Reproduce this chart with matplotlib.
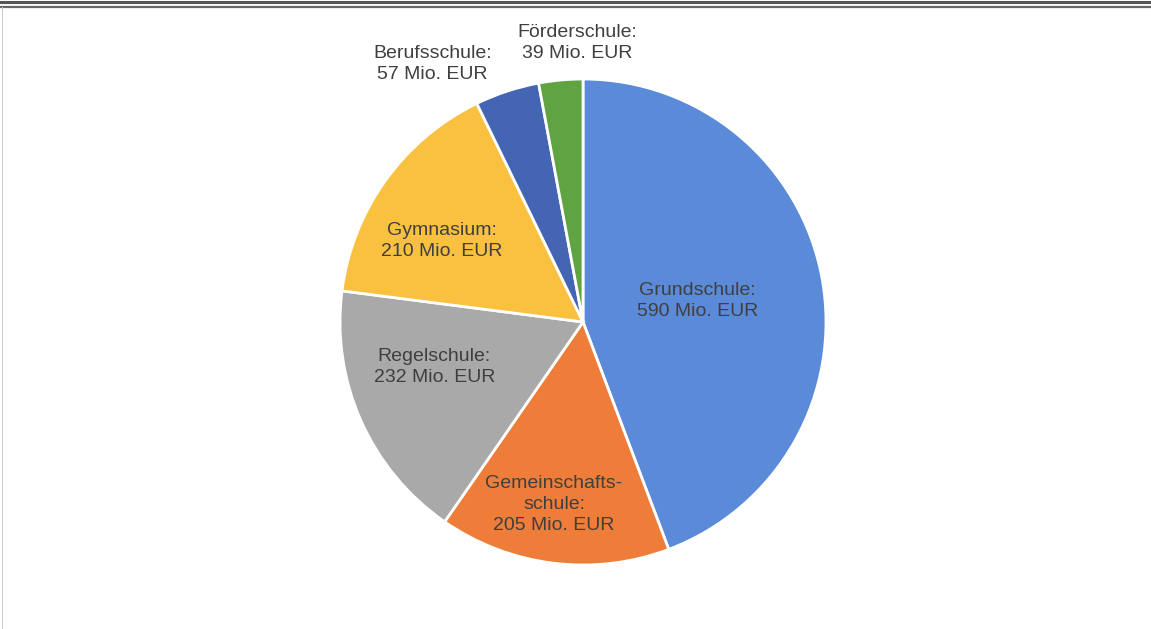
import numpy as np
import matplotlib.pyplot as plt
from matplotlib.lines import Line2D

plt.rcParams['font.family'] = ['Liberation Sans', 'DejaVu Sans']

# Ausgaben je Schulart in Mio. EUR
schularten = ['Grundschule', 'Gemeinschafts-\nschule', 'Regelschule',
              'Gymnasium', 'Berufsschule', 'Förderschule']
ausgaben = [590, 205, 232, 210, 57, 39]
farben = ['#5B8BD8', '#EE7D3A', '#A9A9A9', '#FAC03F', '#4464B4', '#5FA342']

# Beschriftung: Abstand vom Mittelpunkt (Anteil am Radius) und Winkelkorrektur
label_r = [0.48, 0.76, 0.64, 0.67, 1.23, 1.15]
label_dw = [0, -2, -7, 6, 12, -4]

W, H = 1151, 629
cx, cy, R = 583, 307, 243

fig = plt.figure(figsize=(W / 100, H / 100), dpi=100)
ax = fig.add_axes([0, 0, 1, 1])

wedges, _ = ax.pie(ausgaben, colors=farben, startangle=90, counterclock=False,
                   center=(cx, cy), radius=R, frame=True,
                   wedgeprops=dict(edgecolor='white', linewidth=2))
ax.set_xlim(0, W)
ax.set_ylim(0, H)
ax.set_aspect('equal')
ax.axis('off')

for w, name, wert, rf, dw in zip(wedges, schularten, ausgaben, label_r, label_dw):
    mid = np.deg2rad((w.theta1 + w.theta2) / 2 + dw)
    x = cx + rf * R * np.cos(mid)
    y = cy + rf * R * np.sin(mid)
    ax.text(x, y, f'{name}:\n{wert} Mio. EUR', ha='center', va='center',
            fontsize=14, color='#3F3F3F', linespacing=1.3)

# Rahmen oben (Doppellinie) und links
fig.add_artist(Line2D([0, 1], [1 - 1.5 / H, 1 - 1.5 / H], color='#555555', lw=2.2))
fig.add_artist(Line2D([0, 1], [1 - 6.5 / H, 1 - 6.5 / H], color='#666666', lw=1.6))
fig.add_artist(Line2D([2 / W, 2 / W], [0, 1 - 6.5 / H], color='#CCCCCC', lw=0.8))

fig.savefig('out.png', dpi=100, facecolor='white')
